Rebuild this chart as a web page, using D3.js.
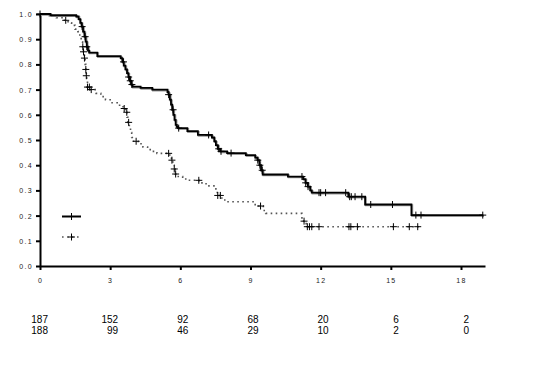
<!DOCTYPE html>
<html>
<head>
<meta charset="utf-8">
<script src="https://cdn.jsdelivr.net/npm/d3@7"></script>
<style>
  body { margin: 0; background: #fff; }
  svg { display: block; font-family: Arial, "Liberation Sans", sans-serif; }
</style>
</head>
<body>
<div id="chart"></div>
<script>
// Kaplan-Meier style steps
const solidTimes = [0, 0.45, 1.55, 1.65, 1.72, 1.78, 1.84, 1.9, 1.95, 2.0, 2.05, 2.1, 2.45,
  3.45, 3.52, 3.58, 3.65, 3.72, 3.78, 3.84, 3.9, 3.95, 4.3, 4.8,
  5.45, 5.5, 5.55, 5.6, 5.65, 5.7, 5.75, 5.8, 5.85, 5.9, 6.3, 6.75,
  7.35, 7.45, 7.52, 7.6, 7.7, 8.0, 8.8, 9.2, 9.3, 9.38, 9.45, 9.52,
  10.6, 11.25, 11.35, 11.45, 11.55, 11.62, 13.18, 13.9, 15.88];
const solidSurv = [1.0, 0.995, 0.99, 0.98, 0.965, 0.95, 0.93, 0.91, 0.89, 0.87, 0.855, 0.847, 0.833,
  0.825, 0.81, 0.795, 0.78, 0.765, 0.75, 0.735, 0.72, 0.712, 0.707, 0.70,
  0.69, 0.68, 0.66, 0.64, 0.62, 0.60, 0.58, 0.56, 0.552, 0.547, 0.535, 0.52,
  0.51, 0.495, 0.48, 0.465, 0.455, 0.448, 0.44, 0.43, 0.42, 0.40, 0.38, 0.363,
  0.355, 0.345, 0.33, 0.315, 0.30, 0.291, 0.275, 0.244, 0.202];
const solidEnd = 18.95;

const dottedTimes = [0, 0.4, 0.7, 1.0, 1.2, 1.35, 1.5, 1.62, 1.7, 1.76, 1.82, 1.86, 1.9, 1.93,
  1.96, 1.98, 2.0, 2.03, 2.15, 2.4, 2.6, 2.8, 3.0, 3.3, 3.55, 3.65, 3.72, 3.76, 3.82, 3.87,
  3.92, 4.0, 4.2, 4.4, 4.6, 4.8, 5.0, 5.55, 5.62, 5.68, 5.74, 5.78, 5.85, 6.1, 6.3, 6.8,
  7.1, 7.52, 7.58, 7.75, 7.9, 9.2, 9.55, 9.65, 11.2, 11.38];
const dottedSurv = [1.0, 0.993, 0.985, 0.975, 0.965, 0.955, 0.94, 0.93, 0.91, 0.89, 0.87, 0.85, 0.825, 0.80,
  0.78, 0.755, 0.735, 0.71, 0.70, 0.685, 0.672, 0.66, 0.648, 0.638, 0.625, 0.61, 0.59, 0.57, 0.55, 0.53,
  0.51, 0.495, 0.485, 0.472, 0.462, 0.455, 0.447, 0.435, 0.42, 0.40, 0.385, 0.365, 0.355, 0.345, 0.34, 0.33,
  0.318, 0.295, 0.28, 0.27, 0.255, 0.238, 0.22, 0.209, 0.178, 0.156];
const dottedEnd = 16.2;

// censored observations (times)
const solidCensor = [0, 1.8, 1.93, 2.0, 3.57, 3.79, 3.86, 3.93, 5.5, 5.69, 5.93, 7.21, 7.64, 7.74, 8.17,
  9.31, 9.4, 9.5, 11.2, 11.36, 11.46, 11.93, 12.0, 12.21, 13.07, 13.24, 13.31, 13.47, 13.76,
  14.14, 15.07, 16.07, 16.29, 18.93];
const dottedCensor = [1.1, 1.83, 1.86, 1.9, 1.96, 1.98, 2.03, 2.11, 2.19, 3.6, 3.71, 3.79, 4.11, 5.5,
  5.64, 5.74, 5.8, 6.79, 7.6, 7.71, 9.43, 11.29, 11.43, 11.52, 11.62, 11.93, 13.21, 13.29, 13.57,
  15.11, 15.79, 16.15];

const xTicks = [0, 3, 6, 9, 12, 15, 18];
const yTicks = [0, 0.1, 0.2, 0.3, 0.4, 0.5, 0.6, 0.7, 0.8, 0.9, 1.0];
const riskSolid = [187, 152, 92, 68, 20, 6, 2];
const riskDotted = [188, 99, 46, 29, 10, 2, 0];

const width = 535, height = 370;
const svg = d3.select("#chart").append("svg")
  .attr("width", width)
  .attr("height", height);

const x = d3.scaleLinear().domain([0, 18]).range([40, 461]);
const y = d3.scaleLinear().domain([0, 1]).range([266, 14]);
const xMax = x.invert(485);

// value of a step curve at time t
function survAt(times, surv, t) {
  let i = d3.bisectRight(times, t) - 1;
  return surv[Math.max(0, i)];
}

function stepPoints(times, surv, end) {
  const pts = times.map((t, i) => [t, surv[i]]);
  pts.push([end, surv[surv.length - 1]]);
  return pts;
}

const line = d3.line()
  .x(d => x(d[0]))
  .y(d => y(d[1]))
  .curve(d3.curveStepAfter);

// Axes
const xAxis = svg.append("g")
  .attr("transform", `translate(0,${y(0)})`)
  .call(d3.axisBottom(d3.scaleLinear().domain([0, xMax]).range([40, 485]))
    .tickValues(xTicks).tickSize(4).tickSizeOuter(0).tickFormat(d3.format("d")));
const yAxis = svg.append("g")
  .attr("transform", `translate(${x(0)},0)`)
  .call(d3.axisLeft(y).tickValues(yTicks).tickSize(4).tickSizeOuter(0).tickFormat(d3.format(".1f")));

[xAxis, yAxis].forEach(g => {
  g.select(".domain").attr("stroke", "#000").attr("stroke-width", 2);
  g.selectAll(".tick line").attr("stroke", "#000").attr("stroke-width", 2);
  g.selectAll(".tick text")
    .attr("font-size", "7px")
    .attr("letter-spacing", "1.3px")
    .attr("fill", "#222")
    .attr("font-family", "Arial, 'Liberation Sans', sans-serif");
});
xAxis.selectAll(".tick text").attr("dy", null).attr("y", 17);
yAxis.selectAll(".tick text").attr("x", -7).attr("dy", "0.35em");

// Curves
svg.append("path")
  .datum(stepPoints(dottedTimes, dottedSurv, dottedEnd))
  .attr("fill", "none")
  .attr("stroke", "#555")
  .attr("stroke-width", 1.6)
  .attr("stroke-dasharray", "1.6,3.4")
  .attr("d", line);

svg.append("path")
  .datum(stepPoints(solidTimes, solidSurv, solidEnd))
  .attr("fill", "none")
  .attr("stroke", "#999")
  .attr("stroke-width", 2)
  .attr("transform", "translate(0.8,0.8)")
  .attr("d", line);
svg.append("path")
  .datum(stepPoints(solidTimes, solidSurv, solidEnd))
  .attr("fill", "none")
  .attr("stroke", "#000")
  .attr("stroke-width", 1.8)
  .attr("d", line);

// Censor marks
function plus(px, py, r) {
  return `M${px - r},${py}H${px + r}M${px},${py - r}V${py + r}`;
}
svg.append("g").selectAll("path")
  .data(solidCensor.map(t => [t, survAt(solidTimes, solidSurv, t)]))
  .enter().append("path")
  .attr("d", d => plus(x(d[0]), y(d[1]), 3.5))
  .attr("stroke", "#000")
  .attr("stroke-width", 1)
  .attr("fill", "none");
svg.append("g").selectAll("path")
  .data(dottedCensor.map(t => [t, survAt(dottedTimes, dottedSurv, t)]))
  .enter().append("path")
  .attr("d", d => plus(x(d[0]), y(d[1]), 3.5))
  .attr("stroke", "#000")
  .attr("stroke-width", 1)
  .attr("fill", "none");

// Legend (line samples only)
const legend = svg.append("g").attr("transform", "translate(62,0)");
legend.append("line")
  .attr("x1", 0).attr("x2", 19).attr("y1", 216.5).attr("y2", 216.5)
  .attr("stroke", "#000").attr("stroke-width", 2);
legend.append("path").attr("d", plus(9.5, 216.5, 3.5)).attr("stroke", "#000");
legend.append("line")
  .attr("x1", 0).attr("x2", 18).attr("y1", 237).attr("y2", 237)
  .attr("stroke", "#555").attr("stroke-width", 1.6).attr("stroke-dasharray", "1.6,3.4");
legend.append("path").attr("d", plus(9.5, 237, 3.5)).attr("stroke", "#000");

// Number at risk
const risk = svg.append("g")
  .attr("font-size", "10px")
  .attr("fill", "#000")
  .attr("text-anchor", "end");
risk.selectAll("text.r1")
  .data(riskSolid)
  .enter().append("text")
  .attr("class", "r1")
  .attr("x", (d, i) => x(xTicks[i]) + 8)
  .attr("y", 323)
  .text(d => d);
risk.selectAll("text.r2")
  .data(riskDotted)
  .enter().append("text")
  .attr("class", "r2")
  .attr("x", (d, i) => x(xTicks[i]) + 8)
  .attr("y", 334)
  .text(d => d);
</script>
</body>
</html>
